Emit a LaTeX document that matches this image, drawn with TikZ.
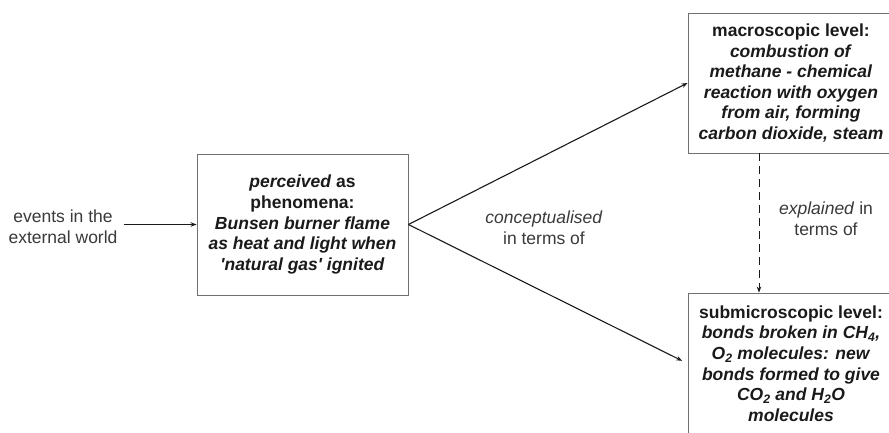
\documentclass[tikz,border=0pt]{standalone}
\usepackage{fontspec}
\setmainfont{Liberation Sans}
\usetikzlibrary{arrows.meta}
\definecolor{boxline}{HTML}{707070}
\definecolor{txt}{HTML}{1A1A1A}
\definecolor{lbl}{HTML}{3A3A3A}
\newcommand{\dsub}[1]{\textsubscript{#1}}
\tikzset{
  levelbox/.style={draw=boxline, line width=0.9pt, rectangle, inner sep=0pt,
    align=center, text=txt, font=\fontsize{17.5}{20.6}\selectfont\bfseries},
  plainlbl/.style={align=center, text=lbl, inner sep=0pt,
    font=\fontsize{17.5}{21}\selectfont},
  conn/.style={draw=txt, line width=1.1pt, -{Stealth[length=6pt,width=4.5pt]}},
}
\begin{document}
\begin{tikzpicture}[x=1pt,y=-1pt]
\clip (0,0) rectangle (889,432);
\fill[white] (0,0) rectangle (889,432);
\node[plainlbl] (events) at (63,227) {events in the\\external world};
\node[levelbox, minimum width=211pt, minimum height=141pt] (mid) at (302.5,224.5)
  {\textit{perceived} as\\phenomena:\\\textit{Bunsen burner flame}\\\textit{as heat and light when}\\\textit{\textquotesingle natural gas\textquotesingle\ ignited}};
\node[levelbox, minimum width=206pt, minimum height=140pt] (top) at (791,83)
  {macroscopic level:\\\textit{combustion of}\\\textit{methane - chemical}\\\textit{reaction with oxygen}\\\textit{from air, forming}\\\textit{carbon dioxide, steam}};
\node[levelbox, minimum width=206pt, minimum height=141pt] (bot) at (791,363.5)
  {submicroscopic level:\\\textit{bonds broken in CH\dsub{4},}\\\textit{O\dsub{2} molecules: new}\\\textit{bonds formed to give}\\\textit{CO\dsub{2} and H\dsub{2}O}\\\textit{molecules}};
\node[plainlbl] (concept) at (544,228) {\textit{conceptualised}\\in terms of};
\node[plainlbl] (explain) at (826,219) {\textit{explained} in\\terms of};
\coordinate (dx) at (759,0);
\draw[conn] ([xshift=6pt]events.east |- mid.west) -- (mid.west);
\draw[conn] (mid.east) -- (top.west);
\draw[conn, shorten >=6pt] (mid.east) -- (bot.west);
\draw[conn, line width=0.8pt, dash pattern=on 8pt off 5pt] (top.south -| dx) -- (bot.north -| dx);
\end{tikzpicture}
\end{document}
